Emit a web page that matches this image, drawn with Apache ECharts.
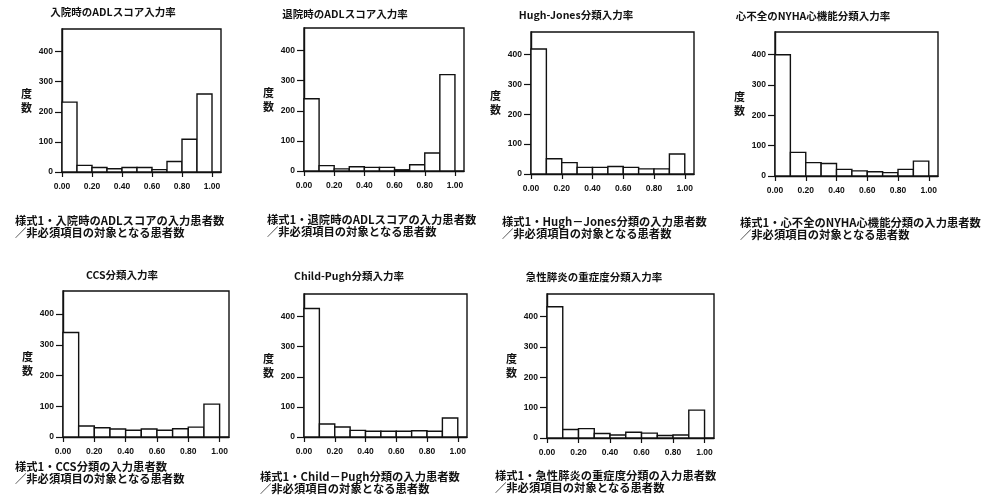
<!DOCTYPE html>
<html><head><meta charset="utf-8">
<script src="https://cdn.jsdelivr.net/npm/echarts@6/dist/echarts.min.js"></script>
<style>html,body{margin:0;padding:0;background:#fff;}#c{width:986px;height:501px;}</style>
</head><body><div id="c"></div>
<script>
// ---- data ----
const binEdges = [0, 0.1, 0.2, 0.3, 0.4, 0.5, 0.6, 0.7, 0.8, 0.9, 1.0];
const xTickValues = [0, 0.2, 0.4, 0.6, 0.8, 1.0];
const yTickValues = [0, 100, 200, 300, 400];
const yAxisName = '度\n数';

const titles = [
  '入院時のADLスコア入力率',
  '退院時のADLスコア入力率',
  'Hugh-Jones分類入力率',
  '心不全のNYHA心機能分類入力率',
  'CCS分類入力率',
  'Child-Pugh分類入力率',
  '急性膵炎の重症度分類入力率'
];
const footnotes = [
  '様式1・入院時のADLスコアの入力患者数\n／非必須項目の対象となる患者数',
  '様式1・退院時のADLスコアの入力患者数\n／非必須項目の対象となる患者数',
  '様式1・Hugh－Jones分類の入力患者数\n／非必須項目の対象となる患者数',
  '様式1・心不全のNYHA心機能分類の入力患者数\n／非必須項目の対象となる患者数',
  '様式1・CCS分類の入力患者数\n／非必須項目の対象となる患者数',
  '様式1・Child－Pugh分類の入力患者数\n／非必須項目の対象となる患者数',
  '様式1・急性膵炎の重症度分類の入力患者数\n／非必須項目の対象となる患者数'
];
const admissionADL = [232, 22, 15, 11, 15, 15, 8, 35, 109, 259];
const dischargeADL = [240, 18, 7, 14, 12, 12, 4, 21, 60, 320];
const hughJones = [418, 51, 38, 22, 22, 25, 22, 17, 17, 67];
const nyha = [400, 78, 44, 41, 22, 17, 14, 11, 22, 49];
const ccs = [340, 36, 30, 26, 22, 26, 22, 27, 32, 107];
const childPugh = [427, 43, 33, 22, 19, 19, 19, 21, 19, 63];
const pancreatitis = [433, 28, 31, 15, 10, 19, 16, 8, 10, 92];
const seriesValues = [admissionADL, dischargeADL, hughJones, nyha, ccs, childPugh, pancreatitis];

// ---- layout (px) ----
const grids = [
  {left: 62, top: 29, width: 159, height: 143},
  {left: 304, top: 28, width: 160, height: 143},
  {left: 531, top: 32, width: 163, height: 142},
  {left: 775, top: 32, width: 163, height: 144},
  {left: 63, top: 291, width: 166, height: 146},
  {left: 304, top: 294, width: 163, height: 143},
  {left: 547, top: 294, width: 167, height: 144}
];
const titlePos = [[113, 7], [345, 9], [576, 10], [813, 11], [122, 270], [349, 271], [594, 272]];
const notePos = [[15, 214], [267, 213], [502, 215], [740, 216], [15, 460], [260, 470], [495, 469]];
const X_MAX = 1.06, Y_MAX = 475;

const jp = '"Noto Sans CJK JP", sans-serif';
const num = '"Liberation Sans", Arial, sans-serif';

const option = {
  backgroundColor: '#fff',
  animation: false,
  title: [],
  grid: [],
  xAxis: [],
  yAxis: [],
  series: []
};

seriesValues.forEach((vals, i) => {
  const g = grids[i];
  option.grid.push({left: g.left, top: g.top, width: g.width, height: g.height,
    show: true, borderColor: '#111', borderWidth: 1.4, backgroundColor: 'transparent'});
  option.xAxis.push({
    type: 'value', gridIndex: i, min: 0, max: X_MAX,
    axisLine: {show: true, onZero: false, lineStyle: {color: '#111', width: 1.4}},
    axisTick: {show: true, length: 5, lineStyle: {color: '#111', width: 1.2}, customValues: xTickValues},
    splitLine: {show: false},
    axisLabel: {customValues: xTickValues, margin: 10, fontSize: 8.5, fontWeight: 'bold', color: '#111',
      fontFamily: num, formatter: v => v.toFixed(2)}
  });
  option.yAxis.push({
    type: 'value', gridIndex: i, min: 0, max: Y_MAX,
    name: yAxisName, nameLocation: 'middle', nameRotate: 0, nameGap: 30,
    nameTextStyle: {fontSize: 11, fontWeight: 'bold', color: '#111', fontFamily: jp, lineHeight: 14},
    axisLine: {show: true, lineStyle: {color: '#111', width: 1.4}},
    axisTick: {show: true, length: 7, lineStyle: {color: '#111', width: 1.2}, customValues: yTickValues},
    splitLine: {show: false},
    axisLabel: {customValues: yTickValues, margin: 9, fontSize: 8.5, fontWeight: 'bold', color: '#111', fontFamily: num}
  });
  const data = vals.map((v, k) => [binEdges[k], binEdges[k + 1], v]);
  option.series.push({
    type: 'custom', xAxisIndex: i, yAxisIndex: i, data: data,
    encode: {x: [0, 1], y: 2},
    renderItem: (params, api) => {
      const p0 = api.coord([api.value(0), api.value(2)]);
      const p1 = api.coord([api.value(1), 0]);
      return {type: 'rect', shape: {x: p0[0], y: p0[1], width: p1[0] - p0[0], height: p1[1] - p0[1]},
        style: {fill: '#fff', stroke: '#111', lineWidth: 1.4}};
    }
  });
  option.title.push({text: titles[i], left: titlePos[i][0], top: titlePos[i][1], textAlign: 'center', padding: 0,
    textStyle: {fontSize: 10.5, fontWeight: 'bold', color: '#111', fontFamily: jp}});
  option.title.push({text: footnotes[i], left: notePos[i][0], top: notePos[i][1], padding: 0,
    textStyle: {fontSize: 11.3, fontWeight: 'bold', color: '#111', fontFamily: jp, lineHeight: 12.5}});
});

const chart = echarts.init(document.getElementById('c'), null, {renderer: 'canvas'});
chart.setOption(option);
</script></body></html>
